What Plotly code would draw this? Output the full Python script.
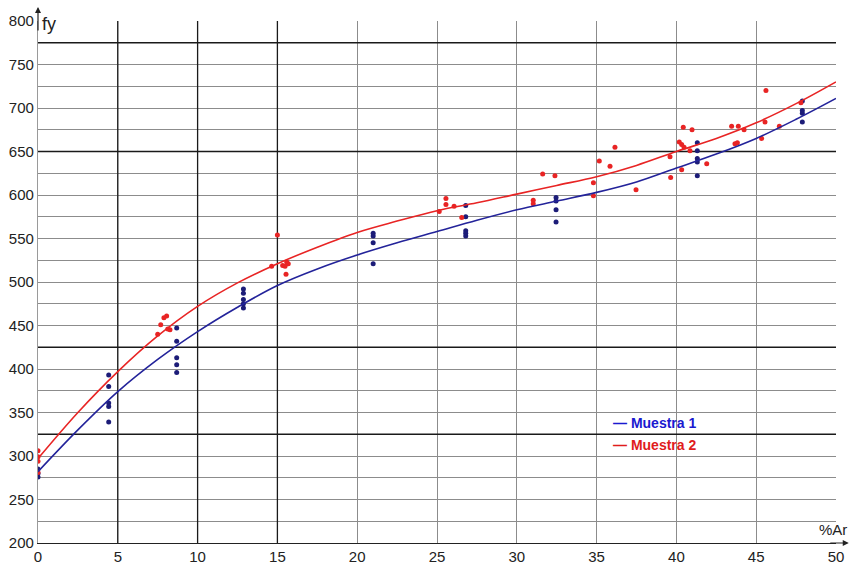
import plotly.graph_objects as go

# Fitted trend curves (fy vs %Ar)
curve_x = [0, 2.5, 5, 7.5, 10, 12.5, 15, 17.5, 20, 22.5, 25, 27.5, 30, 32.5, 35, 37.5, 40, 42.5, 45, 47.5, 50]
curve_m1 = [282, 330, 374, 411, 443, 471, 496, 515, 531, 545, 558, 571, 583, 593, 603, 615, 631, 647, 665, 687, 711]
curve_m2 = [297, 350, 397, 438, 472, 499, 521, 540, 557, 570, 582, 591, 601, 611, 621, 634, 650, 665, 683, 705, 730]

# Measured points, Muestra 1
m1_x = [0, 0, 0,
        4.43, 4.43, 4.43, 4.43, 4.43,
        8.69, 8.69, 8.69, 8.69, 8.69,
        12.87, 12.87, 12.87, 12.87, 12.87,
        21.0, 21.0, 21.0, 21.0,
        26.8, 26.8, 26.8, 26.8, 26.8,
        32.46, 32.46, 32.46, 32.46,
        41.31, 41.31, 41.31, 41.31, 41.31,
        47.89, 47.89, 47.89, 47.89]
m1_y = [285, 280, 276,
        393, 380, 361, 357, 339,
        447, 432, 413, 405, 396,
        492, 487, 480, 475, 470,
        556, 553, 545, 521,
        588, 575, 559, 556, 553,
        597, 593, 583, 569,
        660, 651, 642, 638, 622,
        708, 697, 694, 684]

# Measured points, Muestra 2
m2_x = [0, 0, 0, 0,
        7.5, 7.69, 7.89, 8.06, 8.13, 8.27,
        14.64, 15.0, 15.33, 15.58, 15.68, 15.48, 15.54,
        25.14, 25.56, 25.56, 26.07, 26.55,
        31.03, 31.03, 31.62, 32.39,
        34.8, 34.8, 35.17, 35.84, 36.15, 37.47,
        39.64, 39.6, 40.18, 40.33, 40.48, 40.33, 40.43, 40.98, 40.85, 41.9,
        43.46, 43.88, 44.24, 43.67, 43.82, 45.34, 45.61, 45.55, 46.45, 47.8]
m2_y = [306, 299, 294, 281,
        440, 451, 459, 461, 446, 445,
        518, 554, 519, 523, 521, 518, 509,
        581, 596, 589, 587, 574,
        594, 590, 624, 622,
        614, 599, 639, 633, 655, 606,
        620, 644, 661, 658, 655, 629, 678, 675, 651, 636,
        679, 679, 675, 659, 660, 665, 720, 684, 679, 706]

x_ticks = [0, 5, 10, 15, 20, 25, 30, 35, 40, 45, 50]
y_ticks = [200, 250, 300, 350, 400, 450, 500, 550, 600, 650, 700, 750, 800]
dark_x = [5, 10, 15]
dark_y = [325, 425, 650, 775]

BLUE_LINE = "#23239a"
BLUE_PT = "#1c1c78"
RED = "#e82424"
GRID = "#8c8c8c"
FONT = "Liberation Sans, Arial, sans-serif"

fig = go.Figure()

fig.add_trace(go.Scatter(x=m1_x, y=m1_y, mode="markers", name="Muestra 1 (datos)",
                         marker=dict(color=BLUE_PT, size=5), showlegend=False))
fig.add_trace(go.Scatter(x=m2_x, y=m2_y, mode="markers", name="Muestra 2 (datos)",
                         marker=dict(color=RED, size=5), showlegend=False))
fig.add_trace(go.Scatter(x=curve_x, y=curve_m1, mode="lines", name="Muestra 1",
                         line=dict(color=BLUE_LINE, width=1.6, shape="spline"), showlegend=False))
fig.add_trace(go.Scatter(x=curve_x, y=curve_m2, mode="lines", name="Muestra 2",
                         line=dict(color=RED, width=1.6, shape="spline"), showlegend=False))

shapes = []
for xv in dark_x:
    shapes.append(dict(type="line", xref="x", yref="y", x0=xv, x1=xv, y0=200, y1=800,
                       line=dict(color="#1a1a1a", width=1.3), layer="between"))
for yv in dark_y:
    shapes.append(dict(type="line", xref="x", yref="y", x0=0, x1=50, y0=yv, y1=yv,
                       line=dict(color="#1a1a1a", width=1.3), layer="between"))

annotations = [
    # axis arrows
    dict(x=0, y=1.027, xref="x", yref="paper", ax=0, ay=25, axref="pixel", ayref="pixel",
         showarrow=True, arrowhead=2, arrowsize=1, arrowwidth=1.2, arrowcolor="#222222", text=""),
    dict(x=1.016, y=200, xref="paper", yref="y", ax=-20, ay=0,
         showarrow=True, arrowhead=2, arrowsize=1, arrowwidth=1.2, arrowcolor="#222222", text=""),
    # axis names
    dict(x=0, y=1.0, xref="x", yref="paper", text="fy", showarrow=False,
         xanchor="left", yanchor="bottom", xshift=2, yshift=-15,
         font=dict(family=FONT, size=18, color="#222222")),
    dict(x=1.016, y=200, xref="paper", yref="y", text="%Ar", showarrow=False,
         xanchor="right", yanchor="bottom", yshift=3,
         font=dict(family=FONT, size=15, color="#222222")),
    # legend
    dict(x=35.9, y=338, xref="x", yref="y", showarrow=False, xanchor="left",
         text="<b>— Muestra 1</b>", font=dict(family=FONT, size=14, color="#1a1ad0")),
    dict(x=35.9, y=312.5, xref="x", yref="y", showarrow=False, xanchor="left",
         text="<b>— Muestra 2</b>", font=dict(family=FONT, size=14, color="#e01c1c")),
]

fig.update_layout(
    width=850, height=564,
    margin=dict(l=38, r=14, t=21, b=21),
    paper_bgcolor="white", plot_bgcolor="white",
    font=dict(family=FONT, size=15, color="#222222"),
    shapes=shapes, annotations=annotations,
    showlegend=False,
)
fig.update_xaxes(range=[0, 50], tickvals=x_ticks, ticktext=[str(v) for v in x_ticks],
                 automargin=False,
                 showgrid=True, gridcolor=GRID, gridwidth=1,
                 showline=True, linecolor="#222222", linewidth=1.2, mirror=False,
                 zeroline=False, ticks="", tickfont=dict(size=15, color="#222222"))
fig.update_yaxes(range=[200, 800], tickvals=y_ticks, ticktext=[str(v) for v in y_ticks],
                 automargin=False, ticklabelstandoff=0,
                 showgrid=True, gridcolor=GRID, gridwidth=1,
                 minor=dict(dtick=25, showgrid=True, gridcolor=GRID, gridwidth=1),
                 showline=True, linecolor="#9a9a9a", linewidth=1.2,
                 zeroline=False, ticks="", tickfont=dict(size=15, color="#222222"))

fig.write_html("out.html")
